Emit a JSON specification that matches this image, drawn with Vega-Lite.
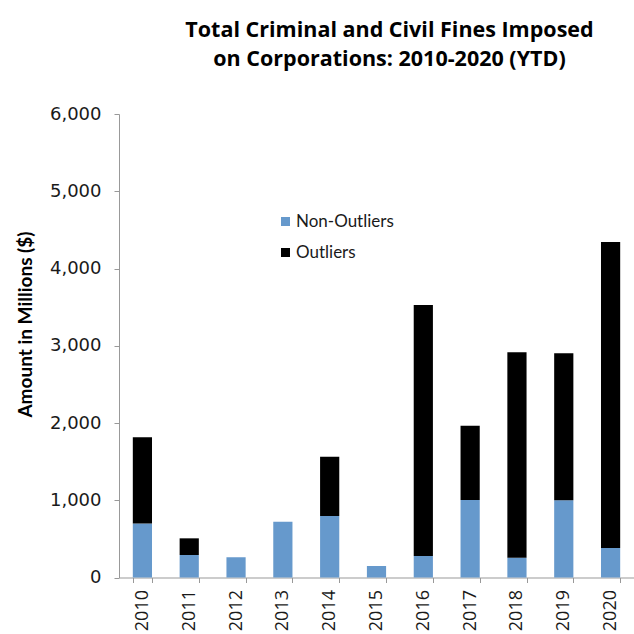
{
  "$schema": "https://vega.github.io/schema/vega-lite/v6.json",
  "autosize": "none",
  "padding": {"left": 119, "top": 114, "right": 0, "bottom": 56},
  "width": 515,
  "height": 463.5,
  "background": "white",
  "title": {
    "text": ["Total Criminal and Civil Fines Imposed", "on Corporations: 2010-2020 (YTD)"],
    "font": "Open Sans",
    "fontSize": 21.5,
    "fontWeight": "bold",
    "color": "#000000",
    "lineHeight": 29,
    "anchor": "middle",
    "dx": 13,
    "offset": 35
  },
  "data": {
    "values": [
      {"year": "2010", "type": "Non-Outliers", "value": 700},
      {"year": "2010", "type": "Outliers", "value": 1115},
      {"year": "2011", "type": "Non-Outliers", "value": 291},
      {"year": "2011", "type": "Outliers", "value": 216},
      {"year": "2012", "type": "Non-Outliers", "value": 261},
      {"year": "2012", "type": "Outliers", "value": 0},
      {"year": "2013", "type": "Non-Outliers", "value": 722},
      {"year": "2013", "type": "Outliers", "value": 0},
      {"year": "2014", "type": "Non-Outliers", "value": 796},
      {"year": "2014", "type": "Outliers", "value": 768},
      {"year": "2015", "type": "Non-Outliers", "value": 149},
      {"year": "2015", "type": "Outliers", "value": 0},
      {"year": "2016", "type": "Non-Outliers", "value": 278},
      {"year": "2016", "type": "Outliers", "value": 3250},
      {"year": "2017", "type": "Non-Outliers", "value": 1003},
      {"year": "2017", "type": "Outliers", "value": 962},
      {"year": "2018", "type": "Non-Outliers", "value": 256},
      {"year": "2018", "type": "Outliers", "value": 2659},
      {"year": "2019", "type": "Non-Outliers", "value": 999},
      {"year": "2019", "type": "Outliers", "value": 1903},
      {"year": "2020", "type": "Non-Outliers", "value": 382},
      {"year": "2020", "type": "Outliers", "value": 3961}
    ]
  },
  "mark": {"type": "bar"},
  "encoding": {
    "x": {
      "field": "year",
      "type": "nominal",
      "scale": {"paddingInner": 0.59, "paddingOuter": 0.295},
      "axis": {
        "title": null,
        "labelAngle": -90,
        "labelAlign": "right",
        "labelBaseline": "middle",
        "labelFont": "Open Sans",
        "labelFontSize": 18,
        "labelColor": "#1a1a1a",
        "labelPadding": 7,
        "tickBand": "extent",
        "tickSize": 5,
        "tickColor": "#999999",
        "domainColor": "#999999",
        "grid": false
      }
    },
    "y": {
      "field": "value",
      "type": "quantitative",
      "stack": "zero",
      "scale": {"domain": [0, 6000], "nice": false},
      "axis": {
        "title": "Amount in Millions ($)",
        "titleFont": "Lato",
        "titleFontSize": 19,
        "titleFontWeight": "bold",
        "titleColor": "#000000",
        "titleX": -84,
        "titleY": 210,
        "values": [0, 1000, 2000, 3000, 4000, 5000, 6000],
        "format": ",d",
        "labelFont": "DejaVu Sans",
        "labelFontSize": 18,
        "labelColor": "#1a1a1a",
        "labelPadding": 13,
        "tickSize": 5,
        "tickColor": "#999999",
        "domainColor": "#999999",
        "grid": false
      }
    },
    "color": {
      "field": "type",
      "type": "nominal",
      "scale": {"domain": ["Non-Outliers", "Outliers"], "range": ["#6699cc", "#000000"]},
      "legend": {
        "title": null,
        "orient": "none",
        "legendX": 158,
        "legendY": 99,
        "symbolType": "square",
        "symbolSize": 81,
        "symbolStrokeWidth": 0,
        "labelFont": "Lato",
        "labelFontSize": 17,
        "labelColor": "#1a1a1a",
        "labelOffset": 2,
        "rowPadding": 13
      }
    },
    "order": {"field": "type", "sort": "ascending"}
  },
  "config": {"view": {"stroke": null}}
}
